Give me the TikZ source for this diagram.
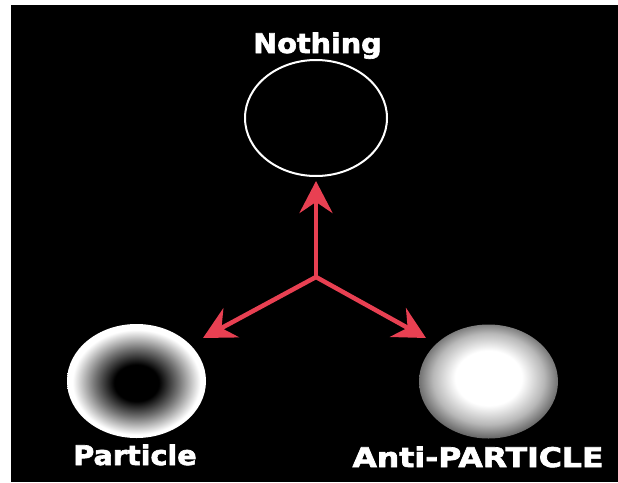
\documentclass[tikz,border=0pt]{standalone}
\usepackage{fontspec}
\newfontfamily\lab[FakeStretch=1.06,FakeBold=2.4]{DejaVu Sans}
\usetikzlibrary{shapes.geometric,arrows.meta}
\definecolor{arrred}{RGB}{232,64,82}
\definecolor{edgegray}{RGB}{85,85,85}
\pgfdeclareradialshading{particleball}{\pgfpoint{0bp}{-1bp}}{%
  color(0bp)=(black); color(8bp)=(black); color(15bp)=(black!55); color(23bp)=(white); color(50bp)=(white)}
\pgfdeclareradialshading{antiball}{\pgfpoint{0bp}{2bp}}{%
  color(0bp)=(white); color(12bp)=(white); color(20bp)=(black!28); color(27bp)=(edgegray); color(50bp)=(edgegray)}
\begin{document}
\begin{tikzpicture}[x=1pt,y=-1pt,
  lbl/.style={text=white,font=\lab\bfseries\fontsize{27}{27}\selectfont,anchor=base,inner sep=0pt},
  ball/.style={ellipse,inner sep=0pt,minimum width=139pt,minimum height=114pt},
  arr/.style={draw=arrred,line width=4.5pt,-{Stealth[length=32pt,width=33pt,inset=11pt]}}]
\useasboundingbox (0,0) rectangle (618,482);
\fill[white] (0,0) rectangle (618,482);
\fill[black] (11,5) rectangle (618,482);
\node[lbl] (tnothing) at (317.5,53) {Nothing};
\node[ellipse,draw=white,line width=2pt,inner sep=0pt,minimum width=142pt,minimum height=116pt] (nothing) at (316,118) {};
\node[ball,shading=particleball] (particle) at (136.5,381) {};
\node[ball,shading=antiball] (anti) at (488.5,381.5) {};
\node[lbl] (tparticle) at (135,465) {Particle};
\node[lbl] (tanti) at (478,467) {\scalebox{1.1}[1]{Anti-PARTICLE}};
\coordinate (c) at (316,277);
\coordinate (tl) at (203,338);
\coordinate (tr) at (426,338);
\draw[arr] (c) -- ([yshift=-4pt]nothing.south);
\draw[arr] (c) -- (tl);
\draw[arr] (c) -- (tr);
\end{tikzpicture}
\end{document}
